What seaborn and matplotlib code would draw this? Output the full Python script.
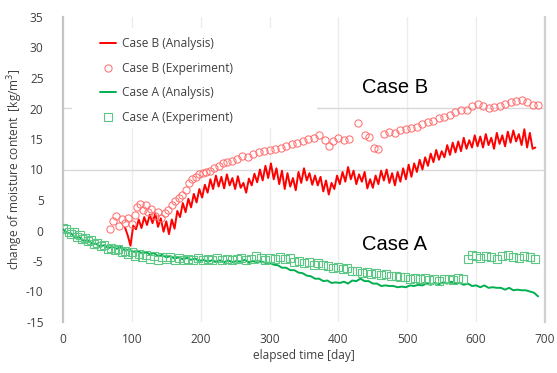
import matplotlib
matplotlib.use("Agg")
import matplotlib.pyplot as plt
from matplotlib.patches import Rectangle
import seaborn as sns
import pandas as pd

sns.set_style("white")
plt.rcParams['font.family'] = ['Open Sans', 'DejaVu Sans']

# ---------------- data ----------------
# Case B (Analysis): sampled every 4 days from day 90
b_ana_days = list(range(90, 690, 4))
b_ana_vals = [
    0.5, -0.8, -2.5, 0.8, 0.2, 1.8, 0.4, 2.2, 0.9, 2.6,
    1.2, 2.8, 0.6, 2.0, -0.2, 1.5, -0.6, 1.8, 0.3, 3.2,
    2.2, 4.5, 3.0, 5.2, 3.8, 6.0, 4.6, 6.8, 5.4, 7.5,
    6.2, 8.4, 6.8, 9.0, 7.2, 8.8, 6.9, 9.2, 7.4, 8.6,
    6.8, 8.9, 7.0, 7.8, 6.2, 8.5, 7.4, 9.3, 7.9, 10.0,
    8.2, 10.6, 8.6, 11.0, 8.4, 10.2, 7.6, 9.8, 6.8, 9.4,
    7.2, 8.6, 6.6, 9.6, 7.8, 10.2, 8.2, 9.4, 7.5, 9.0,
    7.4, 8.8, 6.4, 8.2, 5.9, 7.8, 6.8, 9.0, 7.6, 9.6,
    8.0, 10.4, 8.4, 9.8, 7.6, 9.2, 8.0, 9.6, 6.9, 8.4,
    7.0, 9.0, 7.6, 9.8, 8.2, 10.0, 7.8, 9.4, 7.4, 9.6,
    8.0, 10.2, 8.4, 10.8, 8.8, 11.0, 9.6, 11.6, 10.0, 12.0,
    10.6, 12.6, 11.2, 13.2, 11.6, 13.0, 12.0, 14.0, 12.4, 14.4,
    12.8, 14.6, 13.0, 15.2, 13.4, 14.8, 13.6, 15.6, 13.8, 15.4,
    13.6, 15.8, 14.0, 15.2, 13.4, 16.0, 14.2, 15.6, 13.8, 16.2,
    14.4, 16.4, 14.6, 15.8, 14.0, 16.6, 13.6, 16.0, 13.4, 13.6,
]

# Case B (Experiment)
b_exp_days = [68, 72, 77, 82, 86, 90, 95, 100, 104, 108, 112, 116, 120, 124, 128,
              133, 138, 143, 148, 153, 158, 163, 168, 173, 178, 183, 188, 193, 198,
              203, 208, 214, 220, 226, 232, 238, 245, 252, 260, 268, 276, 284, 292,
              300, 308, 316, 324, 332, 340, 348, 356, 364, 372, 380, 386, 392, 400,
              408, 416, 429, 438, 445, 452, 458, 466, 474, 482, 490, 498, 506, 514,
              522, 530, 538, 546, 554, 562, 570, 578, 586, 594, 602, 610, 618, 626,
              634, 642, 650, 658, 666, 674, 682, 690]
b_exp_vals = [0.2, 1.6, 2.3, 0.8, 1.9, 1.2, 2.0, 1.0, 2.6, 3.8, 4.4, 3.4, 4.2, 3.0, 3.6,
              2.4, 3.0, 2.0, 2.8, 3.4, 4.2, 4.8, 5.4, 5.8, 6.6, 7.8, 8.4, 8.8, 9.2,
              9.4, 9.6, 9.8, 10.2, 10.6, 11.0, 11.2, 11.4, 11.8, 12.2, 12.0, 12.6, 12.8, 13.0,
              13.2, 13.4, 13.6, 13.8, 14.2, 14.4, 14.6, 15.0, 15.2, 15.6, 14.8, 13.8, 14.6, 15.2,
              14.8, 15.0, 17.6, 15.6, 15.4, 13.6, 13.4, 15.8, 16.2, 16.0, 16.4, 16.6, 16.8, 17.0,
              17.4, 17.8, 18.0, 18.4, 18.6, 19.0, 19.4, 19.8, 19.8, 20.4, 20.8, 20.4, 20.0, 20.2,
              20.4, 20.8, 21.0, 21.2, 21.4, 21.0, 20.6, 20.6]

# Case A (Analysis): sampled every 6 days from day 0
a_ana_days = list(range(0, 691, 6))
a_ana_vals = [
    0.2, -0.4, -0.5, -1.2, -1.1, -1.7, -1.6, -2.1, -2.2, -2.6,
    -2.4, -2.9, -2.6, -3.0, -2.7, -3.3, -3.1, -3.5, -3.3, -3.7,
    -3.5, -3.9, -3.7, -4.2, -4.0, -4.4, -4.2, -4.6, -4.4, -4.7,
    -4.5, -4.8, -4.6, -5.0, -4.8, -5.1, -4.9, -5.1, -4.9, -5.2,
    -4.9, -5.2, -5.0, -5.1, -4.8, -5.2, -5.0, -5.3, -5.1, -5.3,
    -5.3, -5.6, -5.7, -6.1, -6.1, -6.5, -6.5, -6.9, -7.0, -7.4,
    -7.5, -7.9, -7.9, -8.3, -8.2, -8.6, -8.5, -8.6, -8.4, -8.7,
    -8.2, -8.3, -7.9, -8.3, -8.3, -8.7, -8.7, -9.1, -9.0, -9.1,
    -9.1, -9.3, -9.2, -9.3, -9.0, -9.1, -8.9, -9.0, -8.7, -8.9,
    -8.6, -8.8, -8.5, -8.7, -8.4, -8.7, -8.6, -8.9, -8.7, -9.1,
    -9.0, -9.3, -9.0, -9.4, -9.3, -9.4, -9.4, -9.7, -9.4, -9.8,
    -9.7, -9.8, -9.8, -10.0, -10.2, -10.8,
]

# Case A (Experiment)
a_exp_days = [0, 4, 8, 12, 16, 20, 24, 28, 32, 36, 40, 45, 50, 55, 60, 65, 70, 75, 80,
              85, 90, 95, 100, 105, 110, 115, 120, 126, 132, 138, 144, 150, 156, 162,
              168, 175, 182, 189, 196, 203, 210, 217, 224, 231, 238, 245, 252, 259, 266,
              273, 280, 287, 294, 301, 308, 315, 322, 329, 336, 343, 350, 357, 364, 371,
              378, 385, 392, 399, 406, 413, 420, 427, 434, 441, 448, 455, 462, 469, 476,
              483, 490, 497, 504, 511, 518, 525, 532, 539, 546, 553, 560, 567, 574, 581,
              588, 594, 600, 606, 614, 622, 630, 638, 646, 654, 662, 670, 678, 686]
a_exp_vals = [0.4, 0.2, -0.3, -0.6, -0.2, -1.0, -0.8, -1.4, -1.2, -1.8, -1.6, -2.2, -2.0,
              -2.6, -2.4, -3.0, -2.8, -3.2, -3.0, -3.6, -3.4, -3.8, -3.6, -4.2, -3.9, -4.4,
              -4.0, -4.6, -4.2, -4.8, -4.3, -4.7, -4.4, -4.8, -4.5, -4.9, -4.6, -4.8, -4.5,
              -4.9, -4.6, -4.8, -4.5, -4.8, -4.6, -4.9, -4.7, -4.5, -4.8, -4.6, -4.2, -4.5,
              -4.8, -4.5, -4.6, -4.4, -4.7, -4.5, -5.2, -5.0, -5.4, -5.2, -5.6, -5.4, -5.6,
              -5.8, -6.1, -6.0, -6.3, -6.2, -6.6, -6.7, -6.9, -6.8, -7.1, -7.0, -7.3, -7.2,
              -7.5, -7.4, -7.7, -7.6, -7.9, -7.8, -8.0, -7.8, -8.1, -7.9, -8.2, -8.0, -7.9,
              -8.1, -7.8, -8.0, -4.6, -4.0, -4.2, -4.5, -4.1, -4.4, -4.6, -4.2, -4.0, -4.3,
              -4.5, -4.1, -4.3, -4.6]

x_ticks = [0, 100, 200, 300, 400, 500, 600, 700]
y_ticks = [-15, -10, -5, 0, 5, 10, 15, 20, 25, 30, 35]

labels = ["Case B (Analysis)", "Case B (Experiment)", "Case A (Analysis)", "Case A (Experiment)"]
annotations = [("Case B", 482, 23.4), ("Case A", 482, -2.3)]

# ---------------- figure ----------------
W, H = 557, 373
fig = plt.figure(figsize=(W / 100, H / 100), dpi=100)
L, R, T, B = 63, 545, 17, 322
ax = fig.add_axes([L / W, (H - B) / H, (R - L) / W, (B - T) / H])

RED = "#ff0000"
RED_L = "#ff7070"
GREEN = "#00b050"
GREEN_L = "#5cc785"
TXT = "#404040"
FS = 8.6

df_ba = pd.DataFrame({"day": b_ana_days, "val": b_ana_vals})
df_be = pd.DataFrame({"day": b_exp_days, "val": b_exp_vals})
df_aa = pd.DataFrame({"day": a_ana_days, "val": a_ana_vals})
df_ae = pd.DataFrame({"day": a_exp_days, "val": a_exp_vals})

sns.lineplot(data=df_ba, x="day", y="val", ax=ax, color=RED, lw=1.4,
             label=labels[0], estimator=None, sort=False, zorder=3)
sns.lineplot(data=df_be, x="day", y="val", ax=ax, color=RED_L, linestyle="",
             marker="o", markersize=5.2, mfc="none", mec=RED_L, mew=0.75,
             label=labels[1], estimator=None, sort=False, zorder=4)
sns.lineplot(data=df_aa, x="day", y="val", ax=ax, color=GREEN, lw=1.4,
             label=labels[2], estimator=None, sort=False, zorder=3)
sns.lineplot(data=df_ae, x="day", y="val", ax=ax, color=GREEN_L, linestyle="",
             marker="s", markersize=5.4, mfc="none", mec=GREEN_L, mew=0.8,
             label=labels[3], estimator=None, sort=False, zorder=4)

ax.set_xlim(0, 700)
ax.set_ylim(-15, 35)
ax.set_xticks(x_ticks)
ax.set_yticks(y_ticks)
ax.set_xticklabels([str(t) for t in x_ticks])
ax.set_yticklabels([str(t) for t in y_ticks])
ax.tick_params(axis="x", length=0, pad=8, labelsize=FS, colors=TXT)
ax.tick_params(axis="y", length=0, pad=14, labelsize=FS, colors=TXT)

# gridlines
for t in x_ticks[1:-1]:
    ax.axvline(t, color="#ececec", lw=1.0, zorder=0.5)
for t in (10, 20):
    ax.axhline(t, color="#d9d9d9", lw=1.0, zorder=0.5)

for s in ("top", "bottom"):
    ax.spines[s].set_visible(False)
ax.spines["left"].set_color("#c4c4c4")
ax.spines["left"].set_linewidth(1.6)
ax.spines["right"].set_color("#d0d0d0")
ax.spines["right"].set_linewidth(1.6)

ax.set_xlabel("elapsed time [day]", fontsize=FS, color=TXT, labelpad=2)
ax.set_ylabel("change of moisture content  [kg/m$^3$]", fontsize=FS,
              color=TXT, labelpad=1)

# white legend panel covering gridlines
x0 = (72 - L) / (R - L)
x1 = (317 - L) / (R - L)
y1 = 1 - (28 - T) / (B - T)
y0 = 1 - (128 - T) / (B - T)
ax.add_patch(Rectangle((x0, y0), x1 - x0, y1 - y0, transform=ax.transAxes,
                       facecolor="white", edgecolor="none", zorder=1))

h, l = ax.get_legend_handles_labels()
leg = ax.legend(h, l, loc="upper left",
                bbox_to_anchor=((100 - L) / (R - L), 1 - (37 - T) / (B - T)),
                frameon=False, fontsize=FS, borderpad=0, borderaxespad=0,
                handlelength=1.3, handletextpad=0.55, labelspacing=0.98)
for t in leg.get_texts():
    t.set_color(TXT)
leg.set_zorder(5)

for txt, xd, yd in annotations:
    ax.text(xd, yd, txt, fontsize=14.5, family=["Liberation Sans", "DejaVu Sans"],
            ha="center", va="center", color="black", zorder=6)

fig.savefig("out.png", dpi=100)
